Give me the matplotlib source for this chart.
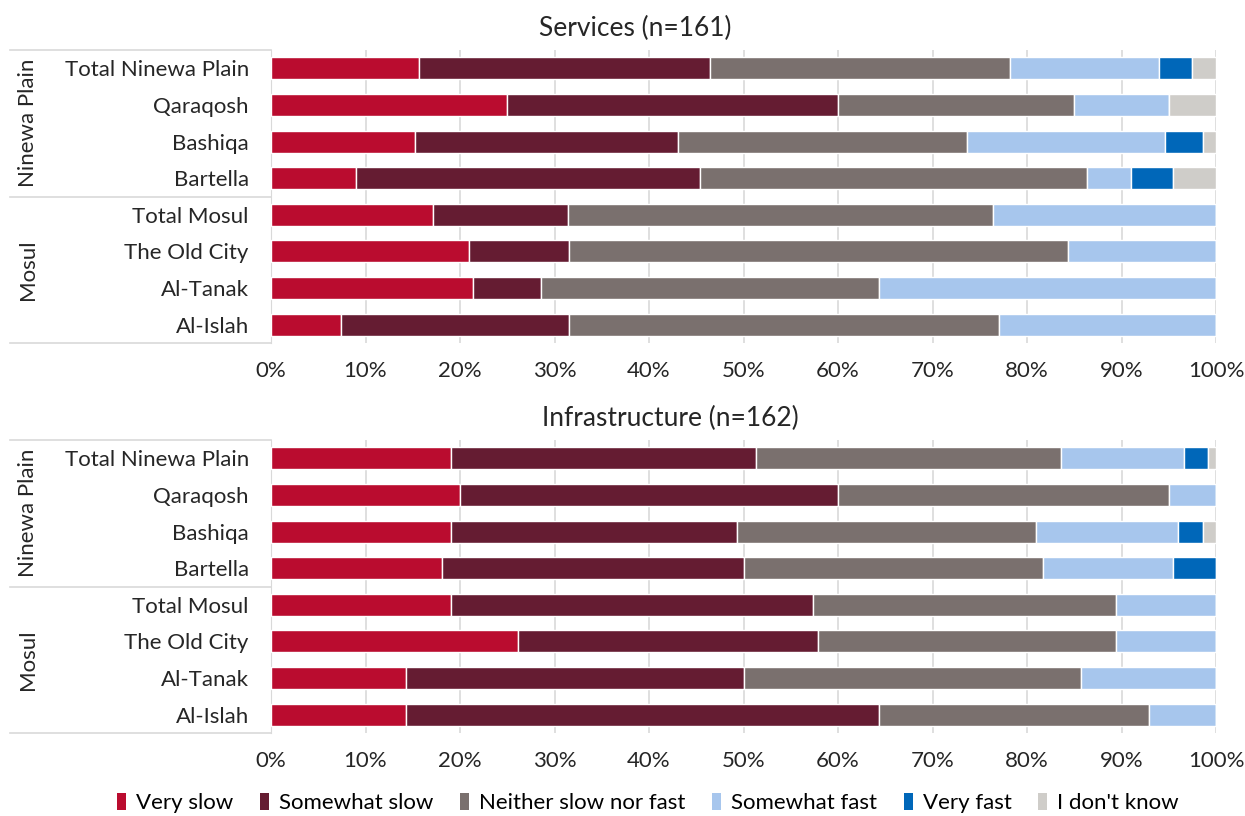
import matplotlib.pyplot as plt
import numpy as np
from matplotlib.patches import Patch

plt.rcParams['font.family'] = ['Lato', 'DejaVu Sans']

locations = ["Total Ninewa Plain", "Qaraqosh", "Bashiqa", "Bartella",
             "Total Mosul", "The Old City", "Al-Tanak", "Al-Islah"]
groups = ["Ninewa Plain", "Mosul"]
categories = ["Very slow", "Somewhat slow", "Neither slow nor fast",
              "Somewhat fast", "Very fast", "I don't know"]
colors = ["#BA0C2F", "#651C32", "#7A706E", "#A7C6ED", "#0067B9", "#CFCDC9"]

# percentages per category, one value per location (same order as locations)
services = [
    [15.7, 25.0, 15.2, 9.0, 17.1, 21.0, 21.4, 7.4],
    [30.8, 35.0, 27.9, 36.4, 14.3, 10.5, 7.2, 24.1],
    [31.7, 25.0, 30.6, 40.9, 45.0, 52.8, 35.7, 45.5],
    [15.8, 10.0, 20.9, 4.7, 23.6, 15.7, 35.7, 23.0],
    [3.5, 0.0, 4.0, 4.4, 0.0, 0.0, 0.0, 0.0],
    [2.5, 5.0, 1.4, 4.6, 0.0, 0.0, 0.0, 0.0],
]
infrastructure = [
    [19.0, 20.0, 19.0, 18.1, 19.0, 26.1, 14.3, 14.3],
    [32.3, 40.0, 30.3, 31.9, 38.4, 31.8, 35.7, 50.0],
    [32.3, 35.0, 31.7, 31.7, 32.0, 31.5, 35.7, 28.6],
    [13.0, 5.0, 15.0, 13.8, 10.6, 10.6, 14.3, 7.1],
    [2.6, 0.0, 2.6, 4.5, 0.0, 0.0, 0.0, 0.0],
    [0.8, 0.0, 1.4, 0.0, 0.0, 0.0, 0.0, 0.0],
]
panels = [("Services (n=161)", services), ("Infrastructure (n=162)", infrastructure)]

W, H = 1245, 816
fig = plt.figure(figsize=(W / 100, H / 100), dpi=100)
left = 271 / W
width = 945 / W
# (axes bottom, axes height, title x, title y) in pixels
boxes = [(343, 293, 635, 28), (733, 293, 670, 418)]

text_color = "#262626"
fs = 16

y = np.arange(len(locations))
for (title, data), (bot, h, tx, ty) in zip(panels, boxes):
    ax = fig.add_axes([left, 1 - bot / H, width, h / H])
    start = np.zeros(len(locations))
    for vals, color in zip(data, colors):
        vals = np.array(vals)
        ax.barh(y, vals, left=start, height=0.6, color=color,
                edgecolor="white", linewidth=1, zorder=3)
        start += vals

    ax.set_xlim(0, 100)
    ax.set_ylim(7.5, -0.5)
    ax.set_xticks(np.arange(0, 101, 10))
    ax.set_xticklabels([f"{v}%" for v in range(0, 101, 10)], fontsize=fs,
                       color=text_color)
    ax.set_yticks(y)
    ax.set_yticklabels(locations, fontsize=fs, color=text_color)
    ax.tick_params(length=0)
    ax.tick_params(axis="y", pad=16)
    ax.tick_params(axis="x", pad=13)
    ax.grid(axis="x", color="#D9D9D9", linewidth=1.2, zorder=0)
    for s in ["top", "right", "bottom"]:
        ax.spines[s].set_visible(False)
    ax.spines["left"].set_color("#D9D9D9")
    fig.text(tx / W, 1 - ty / H, title, ha="center", va="center",
             fontsize=19, color=text_color)

    # group separators and labels on the left
    tr = ax.get_yaxis_transform()
    x0 = (10 - 271) / 945
    for yy in [-0.5, 3.5, 7.5]:
        ax.plot([x0, 0], [yy, yy], transform=tr, color="#D9D9D9",
                linewidth=1.2, clip_on=False)
    gx = (28 - 271) / 945
    ax.text(gx, 1.5, groups[0], transform=tr, rotation=90, ha="center",
            va="center", fontsize=fs, color=text_color)
    ax.text(gx, 5.5, groups[1], transform=tr, rotation=90, ha="center",
            va="center", fontsize=fs, color=text_color)

handles = [Patch(facecolor=c, edgecolor="none") for c in colors]
fig.legend(handles, categories, loc="center", bbox_to_anchor=(648 / W, 1 - 803 / H),
           ncol=6, frameon=False, fontsize=fs, handlelength=0.4,
           handleheight=0.85, handletextpad=0.45, columnspacing=1.2)

plt.savefig("out.png", dpi=100)
